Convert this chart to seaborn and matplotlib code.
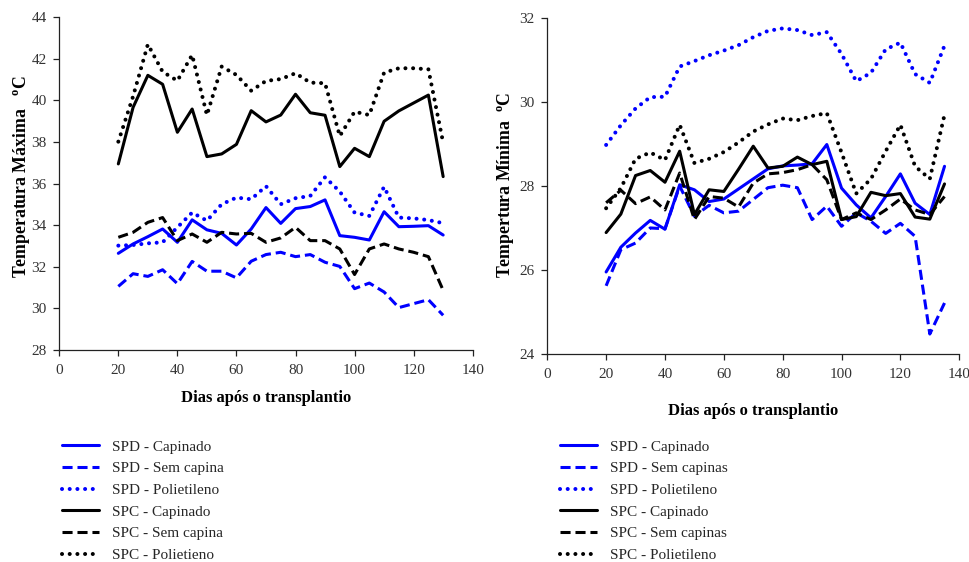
import matplotlib
matplotlib.use("Agg")
import matplotlib.pyplot as plt
import seaborn as sns
from matplotlib.lines import Line2D

# ---------------- data ----------------
days_max = [20, 25, 30, 35, 40, 45, 50, 55, 60, 65, 70, 75, 80, 85, 90, 95, 100, 105, 110, 115, 120, 125, 130]
spd_cap_max = [32.65, 33.10, 33.45, 33.82, 33.18, 34.26, 33.78, 33.61, 33.05, 33.82, 34.85, 34.09, 34.80, 34.90, 35.22, 33.50, 33.42, 33.29, 34.65, 33.93, 33.95, 33.98, 33.53]
spd_sem_max = [31.06, 31.67, 31.54, 31.86, 31.19, 32.26, 31.79, 31.79, 31.47, 32.27, 32.59, 32.70, 32.49, 32.59, 32.22, 32.02, 30.95, 31.22, 30.79, 30.04, 30.23, 30.42, 29.67]
spd_pol_max = [33.02, 33.05, 33.13, 33.18, 33.90, 34.61, 34.22, 35.01, 35.33, 35.25, 35.88, 35.01, 35.30, 35.41, 36.31, 35.62, 34.61, 34.45, 35.85, 34.37, 34.33, 34.25, 34.10]
spc_cap_max = [36.95, 39.67, 41.21, 40.78, 38.47, 39.59, 37.30, 37.43, 37.89, 39.51, 38.97, 39.30, 40.30, 39.41, 39.29, 36.82, 37.70, 37.30, 39.00, 39.50, 39.88, 40.26, 36.34]
spc_sem_max = [33.42, 33.66, 34.14, 34.37, 33.26, 33.58, 33.18, 33.66, 33.58, 33.61, 33.18, 33.39, 33.90, 33.26, 33.26, 32.86, 31.63, 32.86, 33.10, 32.86, 32.70, 32.49, 30.87]
spc_pol_max = [38.02, 40.20, 42.70, 41.38, 40.95, 42.19, 39.30, 41.63, 41.23, 40.47, 40.94, 41.03, 41.31, 40.86, 40.83, 38.29, 39.46, 39.30, 41.34, 41.55, 41.55, 41.50, 37.97]

days_min = [20, 25, 30, 35, 40, 45, 50, 55, 60, 65, 70, 75, 80, 85, 90, 95, 100, 105, 110, 115, 120, 125, 130, 135]
spd_cap_min = [25.95, 26.54, 26.88, 27.18, 26.97, 28.03, 27.91, 27.63, 27.69, 27.93, 28.17, 28.41, 28.48, 28.50, 28.53, 28.99, 27.95, 27.55, 27.24, 27.75, 28.29, 27.59, 27.32, 28.47]
spd_sem_min = [25.62, 26.48, 26.64, 27.00, 26.98, 28.00, 27.28, 27.54, 27.36, 27.40, 27.68, 27.96, 28.02, 27.96, 27.20, 27.52, 27.04, 27.36, 27.16, 26.87, 27.11, 26.80, 24.47, 25.21]
spd_pol_min = [28.98, 29.45, 29.85, 30.12, 30.13, 30.85, 30.98, 31.12, 31.23, 31.36, 31.55, 31.70, 31.76, 31.72, 31.60, 31.67, 31.15, 30.50, 30.70, 31.26, 31.42, 30.67, 30.46, 31.35]
spc_cap_min = [26.89, 27.33, 28.25, 28.37, 28.09, 28.83, 27.32, 27.91, 27.87, 28.40, 28.95, 28.43, 28.47, 28.69, 28.51, 28.59, 27.20, 27.27, 27.85, 27.77, 27.82, 27.26, 27.21, 28.05]
spc_sem_min = [27.60, 27.90, 27.58, 27.74, 27.43, 28.31, 27.20, 27.75, 27.71, 27.50, 28.07, 28.29, 28.32, 28.39, 28.51, 28.15, 27.20, 27.36, 27.20, 27.43, 27.69, 27.43, 27.32, 27.75]
spc_pol_min = [27.47, 27.95, 28.65, 28.80, 28.62, 29.46, 28.55, 28.65, 28.81, 29.04, 29.30, 29.47, 29.61, 29.57, 29.67, 29.74, 28.80, 27.82, 28.17, 28.83, 29.46, 28.47, 28.17, 29.70]

labels_max = ["SPD - Capinado", "SPD - Sem capina", "SPD - Polietileno",
              "SPC - Capinado", "SPC - Sem capina", "SPC - Polietieno"]
labels_min = ["SPD - Capinado", "SPD - Sem capinas", "SPD - Polietileno",
              "SPC - Capinado", "SPC - Sem capinas", "SPC - Polietileno"]

# ---------------- style ----------------
sns.set_theme(style="ticks")
plt.rcParams["font.family"] = ["Liberation Serif", "DejaVu Serif"]
plt.rcParams["mathtext.fontset"] = "custom"
plt.rcParams["mathtext.rm"] = "Liberation Serif:bold"
plt.rcParams["mathtext.bf"] = "Liberation Serif:bold"
plt.rcParams["mathtext.it"] = "Liberation Serif:bold"

BLUE = "#0000ff"
BLACK = "#000000"
STY = {
    "solid": dict(linestyle="-", linewidth=2.2),
    "dashed": dict(linestyle=(0, (3.3, 1.6)), linewidth=2.2),
    "dotted": dict(linestyle=(0, (0.01, 1.9)), linewidth=2.9, dash_capstyle="round"),
}
kinds = ["solid", "dashed", "dotted", "solid", "dashed", "dotted"]
colors = [BLUE, BLUE, BLUE, BLACK, BLACK, BLACK]

fig = plt.figure(figsize=(9.7, 5.62), dpi=100)
ax1 = fig.add_axes([0.0611, 0.3772, 0.4262, 0.592])
ax2 = fig.add_axes([0.5642, 0.3706, 0.4247, 0.5968])

series_max = [spd_cap_max, spd_sem_max, spd_pol_max, spc_cap_max, spc_sem_max, spc_pol_max]
series_min = [spd_cap_min, spd_sem_min, spd_pol_min, spc_cap_min, spc_sem_min, spc_pol_min]

for vals, k, c in zip(series_max, kinds, colors):
    sns.lineplot(x=days_max, y=vals, ax=ax1, color=c, errorbar=None, legend=False, **STY[k])
for vals, k, c in zip(series_min, kinds, colors):
    sns.lineplot(x=days_min, y=vals, ax=ax2, color=c, errorbar=None, legend=False, **STY[k])

for ax in (ax1, ax2):
    sns.despine(ax=ax)
    ax.set_facecolor("white")
    for s in ("left", "bottom"):
        ax.spines[s].set_color("#222222")
        ax.spines[s].set_linewidth(0.9)
    ax.tick_params(direction="out", length=4, width=0.9, colors="#222222",
                   labelsize=11, labelcolor="#333333")
    ax.tick_params(axis="y", pad=5)
    ax.tick_params(axis="x", pad=6)
    ax.set_xlim(0, 140)
    ax.set_xticks(range(0, 141, 20))
    ax.set_xlabel("Dias após o transplantio", fontsize=12, fontweight="bold", color="black")

ax1.set_ylim(28, 44)
ax1.set_yticks(range(28, 45, 2))
ax2.set_ylim(24, 32)
ax2.set_yticks(range(24, 33, 2))

ax1.set_ylabel("Temperatura Máxima   $^{\\mathrm{o}}$C", fontsize=12.8, fontweight="bold", color="black")
ax2.set_ylabel("Tempertura Mínima  $^{\\mathrm{o}}$C", fontsize=12.8, fontweight="bold", color="black")
ax1.yaxis.set_label_coords(-0.066, 0.52)
ax2.yaxis.set_label_coords(-0.076, 0.504)
ax1.xaxis.set_label_coords(0.5, -0.12)
ax2.xaxis.set_label_coords(0.5, -0.146)

def make_handles():
    return [Line2D([0], [0], color=c, **STY[k]) for k, c in zip(kinds, colors)]

leg_kw = dict(loc="upper left", frameon=False, fontsize=11, handlelength=2.4,
              handletextpad=0.9, labelspacing=0.52, borderpad=0, borderaxespad=0)
fig.legend(make_handles(), labels_max, bbox_to_anchor=(62 / 970, 1 - 440 / 562), **leg_kw)
fig.legend(make_handles(), labels_min, bbox_to_anchor=(560 / 970, 1 - 440 / 562), **leg_kw)

fig.savefig("out.png", dpi=100, facecolor="white")
